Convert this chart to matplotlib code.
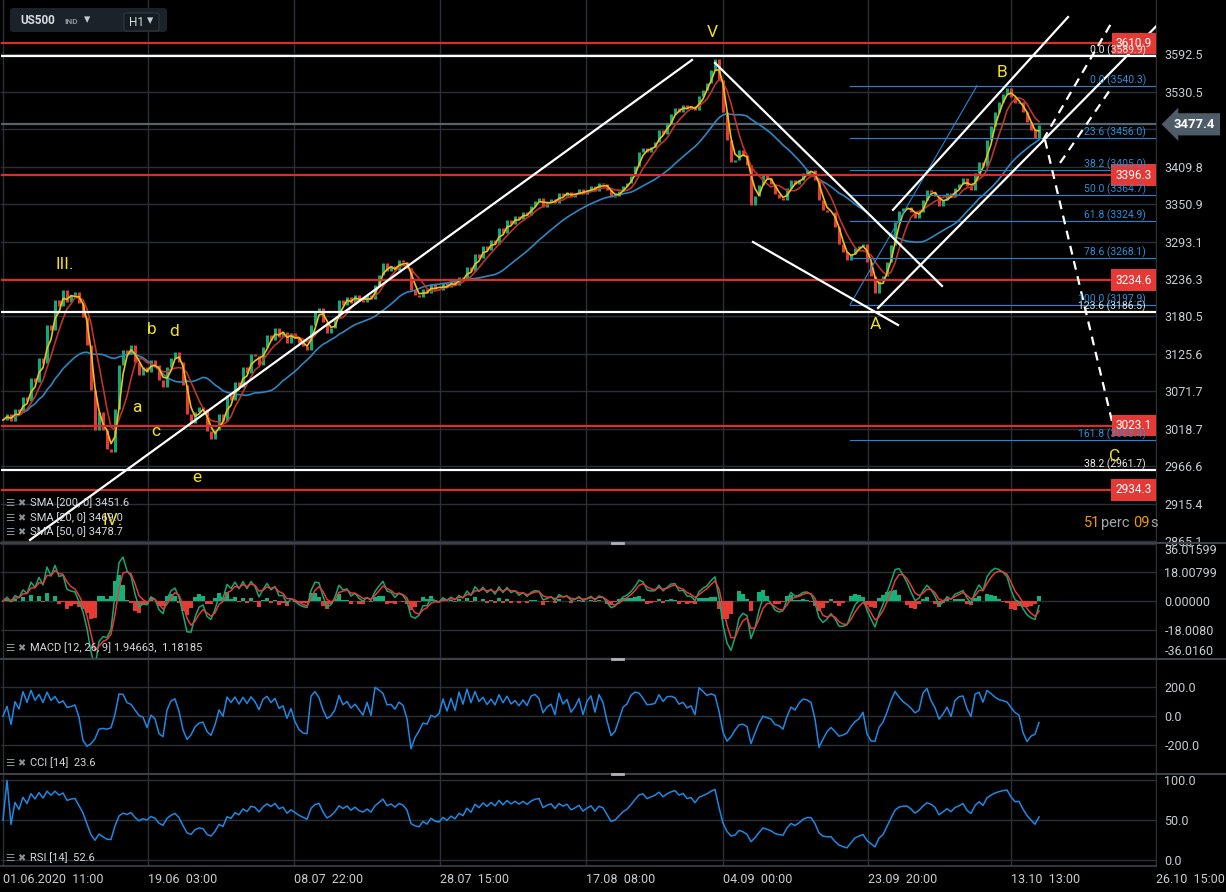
import numpy as np
import pandas as pd
import matplotlib
matplotlib.use("Agg")
import matplotlib.pyplot as plt
from matplotlib.lines import Line2D
from matplotlib.patches import FancyBboxPatch
from matplotlib.ticker import FixedLocator, FixedFormatter, NullLocator, FuncFormatter

plt.rcParams['font.family'] = ['Roboto', 'DejaVu Sans']

W, H = 1226, 892
BG = '#000000'
GRID = '#2a3036'
TXT = '#c9ced2'
UP = '#13a974'
DOWN = '#e63b35'

# US500 closes (one value every few H1 bars)
closes = [
    3031, 3040, 3030, 3046, 3042, 3063, 3058, 3091, 3085, 3120,
    3112, 3168, 3160, 3205, 3196, 3220, 3202, 3212, 3217, 3200,
    3180, 3139, 3074, 3017, 3043, 3017, 2990, 2987, 3046, 3110,
    3132, 3125, 3138, 3114, 3095, 3106, 3100, 3117, 3110, 3088,
    3078, 3106, 3120, 3129, 3114, 3081, 3039, 3027, 3043, 3049,
    3046, 3015, 3004, 3017, 3039, 3030, 3066, 3060, 3085, 3078,
    3106, 3098, 3126, 3123, 3110, 3135, 3153, 3146, 3164, 3150,
    3158, 3142, 3156, 3149, 3142, 3137, 3132, 3168, 3187, 3193,
    3173, 3156, 3164, 3178, 3205, 3198, 3210, 3200, 3213, 3205,
    3202, 3212, 3206, 3228, 3243, 3261, 3248, 3256, 3250, 3265,
    3262, 3253, 3220, 3213, 3210, 3222, 3215, 3229, 3222, 3220,
    3230, 3224, 3233, 3228, 3240, 3236, 3255, 3248, 3274, 3268,
    3286, 3280, 3296, 3290, 3314, 3306, 3326, 3320, 3332, 3327,
    3339, 3334, 3348, 3356, 3360, 3346, 3354, 3359, 3352, 3368,
    3364, 3370, 3362, 3367, 3374, 3366, 3373, 3379, 3372, 3384,
    3382, 3373, 3362, 3364, 3371, 3379, 3384, 3395, 3411, 3433,
    3439, 3433, 3441, 3449, 3468, 3462, 3479, 3494, 3504, 3498,
    3509, 3502, 3507, 3500, 3523, 3533, 3545, 3566, 3585, 3550,
    3497, 3452, 3417, 3420, 3436, 3428, 3412, 3350, 3363, 3381,
    3398, 3391, 3382, 3367, 3360, 3357, 3376, 3389, 3382, 3389,
    3399, 3404, 3404, 3389, 3357, 3342, 3339, 3339, 3316, 3290,
    3277, 3265, 3274, 3283, 3286, 3289, 3262, 3241, 3215, 3233,
    3241, 3262, 3288, 3323, 3340, 3345, 3346, 3339, 3329, 3339,
    3357, 3373, 3370, 3364, 3348, 3357, 3368, 3362, 3376, 3382,
    3391, 3379, 3373, 3399, 3417, 3410, 3452, 3474, 3497, 3513,
    3527, 3536, 3522, 3512, 3513, 3497, 3481, 3468, 3455, 3477,
]
last_price = 3477.4

# moving average windows in bars of the series above
sma_fast, sma_mid, sma_slow = 3, 6, 23

price_ticks = [3592.5, 3530.5, 3469.5, 3409.8, 3350.9, 3293.1, 3236.3,
               3180.5, 3125.6, 3071.7, 3018.7, 2966.6, 2915.4, 2865.1]
macd_ticks = [-36.0160, -18.0080, 0.0, 18.00799, 36.01599]
macd_tick_labels = ['-36.0160', '-18.0080', '0.00000', '18.00799', '36.01599']
cci_ticks = [-200, 0, 200]
rsi_ticks = [0, 50, 100]

res_levels = [3610.9, 3396.3, 3234.6, 3023.1, 2934.3]
white_fib = [(0.0, 3589.9), (123.6, 3186.5), (38.2, 2961.7)]
blue_fib = [(0.0, 3540.3), (23.6, 3456.0), (38.2, 3405.0), (50.0, 3364.7),
            (61.8, 3324.9), (78.6, 3268.1), (100.0, 3197.9), (161.8, 3003.4)]
blue_fib_start = 211.75

time_labels = ['01.06.2020  11:00', '19.06  03:00', '08.07  22:00', '28.07  15:00',
               '17.08  08:00', '04.09  00:00', '23.09  20:00', '13.10  13:00', '26.10  15:00']
time_pos = [0, 36.25, 72.75, 109.25, 145.75, 180, 216.25, 252, 288.25]
x_max = 288.25

wave_labels = [('III.', 15.5, 3257.6), ('IV.', 27.5, 2893.5), ('a', 33.5, 3048.4),
               ('b', 37.25, 3160.8), ('c', 38.25, 3014.7), ('d', 42.75, 3157.8),
               ('e', 48.5, 2951.0), ('V', 177.25, 3628.1), ('A', 218.0, 3168.1),
               ('B', 249.75, 3561.3), ('C', 278.0, 2979.5)]

trend_lines = [((6.75, 2866.9), (172.25, 3582.9)),
               ((178.0, 3577.9), (234.75, 3225.9)),
               ((187.5, 3292.4), (223.75, 3167.9)),
               ((218.75, 3193.0), (289.4, 3647.0)),
               ((222.5, 3341.9), (266.25, 3655.0))]
dashed_lines = [((260.0, 3452.2), (277.25, 3646.7)),
                ((264.25, 3415.5), (276.75, 3533.3)),
                ((260.5, 3452.2), (277.75, 3017.5))]
fib_diag = ((211.75, 3197.9), (243.5, 3540.3))

# ---- indicators
s = pd.Series(closes, dtype=float)
ma_fast = s.rolling(sma_fast, min_periods=1).mean()
ma_mid = s.rolling(sma_mid, min_periods=1).mean()
ma_slow = s.rolling(sma_slow, min_periods=1).mean()

macd = s.ewm(span=2, adjust=False).mean() - s.ewm(span=4, adjust=False).mean()
signal = macd.ewm(span=3, adjust=False).mean()
hist = macd - signal

n_cci = 8
tp_mean = s.rolling(n_cci, min_periods=1).mean()
mad = s.rolling(n_cci, min_periods=1).apply(lambda w: np.mean(np.abs(w - w.mean())), raw=True)
cci = ((s - tp_mean) / (0.015 * mad)).replace([np.inf, -np.inf], np.nan).fillna(0)

n_rsi = 9
d = s.diff().fillna(0)
gain = d.clip(lower=0).ewm(alpha=1 / n_rsi, adjust=False).mean()
loss = (-d.clip(upper=0)).ewm(alpha=1 / n_rsi, adjust=False).mean()
rsi = (100 * gain / (gain + loss)).fillna(50)

# ---- figure
fig = plt.figure(figsize=(W / 100, H / 100), dpi=100, facecolor=BG)


def rect(top, bot):
    return [1 / W, 1 - bot / H, 1155 / W, (bot - top) / H]


axp = fig.add_axes(rect(0, 543))
axm = fig.add_axes(rect(543, 659), sharex=axp)
axc = fig.add_axes(rect(659, 774), sharex=axp)
axr = fig.add_axes(rect(774, 866), sharex=axp)

for ax in (axp, axm, axc, axr):
    ax.set_facecolor(BG)
    for k in ('top', 'bottom', 'left'):
        ax.spines[k].set_visible(False)
    ax.spines['right'].set_color(GRID)
    ax.yaxis.tick_right()
    ax.tick_params(axis='y', length=0, pad=6, colors=TXT, labelsize=9)
    ax.tick_params(axis='x', length=0, labelbottom=False)
    ax.xaxis.set_major_locator(FixedLocator(time_pos))
    ax.grid(True, color=GRID, lw=1)
    ax.set_axisbelow(True)

axp.set_xlim(-0.5, x_max)

# price panel
axp.set_yscale('log')
axp.set_ylim(2862.8, 3684.1)
axp.yaxis.set_major_locator(FixedLocator(price_ticks))
axp.yaxis.set_minor_locator(NullLocator())
axp.yaxis.set_major_formatter(FuncFormatter(lambda v, p: '' if abs(v - 3469.5) < 0.1 else f'{v:.1f}'))
axp.yaxis.set_minor_formatter(FuncFormatter(lambda v, p: ''))

idx = np.arange(len(closes))
c = s.values
o = np.r_[c[0], c[:-1]]
up = c >= o
axp.vlines(idx[up], o[up], c[up], color=UP, lw=2.2, zorder=2)
axp.vlines(idx[~up], c[~up], o[~up], color=DOWN, lw=2.2, zorder=2)
axp.plot(idx, ma_slow, color='#2e86c1', lw=1.2, zorder=3)
axp.plot(idx, ma_mid, color='#c0332b', lw=1.2, zorder=3)
axp.plot(idx, ma_fast, color='#e8c21c', lw=1.2, zorder=3)

axp.axhline(last_price, color='#56646e', lw=1.6, zorder=1.5)
for v in res_levels:
    axp.axhline(v, color='#d7302c', lw=1.6, zorder=4)
    axp.text(x_max - 1.0, v, f'{v:.1f}', ha='right', va='center', color='white', fontsize=8.5,
             zorder=6, bbox=dict(fc='#e53935', ec='none', pad=3.0))
for lvl, v in white_fib:
    axp.axhline(v, color='white', lw=1.6, zorder=4)
    axp.text(285.75, v, f'{lvl:.1f} ({v:.1f})', ha='right', va='bottom', color='#e8e8e8',
             fontsize=7.5, zorder=7)
for lvl, v in blue_fib:
    axp.plot([blue_fib_start, x_max], [v, v], color='#1e88d8', lw=0.8, zorder=4)
    axp.text(285.75, v, f'{lvl:.1f} ({v:.1f})', ha='right', va='bottom', color='#2a8fd8',
             fontsize=7.5, zorder=7)
axp.plot(*zip(*fib_diag), color='#1e88d8', lw=0.8, zorder=4)

for p0, p1 in trend_lines:
    axp.plot([p0[0], p1[0]], [p0[1], p1[1]], color='white', lw=1.6, zorder=5)
for p0, p1 in dashed_lines:
    axp.plot([p0[0], p1[0]], [p0[1], p1[1]], color='white', lw=1.6, zorder=5,
             dashes=(4, 3))

for t, xi, yv in wave_labels:
    axp.text(xi, yv, t, color='#f2e21c', fontsize=12.5, ha='center', va='center', zorder=8)

axp.annotate(f'{last_price:.1f}', xy=(1, last_price), xycoords=('axes fraction', 'data'),
             xytext=(13, 0), textcoords='offset points', ha='left', va='center',
             color='white', fontsize=9.5, fontweight='bold', annotation_clip=False,
             bbox=dict(boxstyle='larrow,pad=0.35', fc='#4d5c67', ec='none'))

# MACD panel
axm.set_ylim(-36.5, 36.5)
axm.yaxis.set_major_locator(FixedLocator(macd_ticks))
axm.yaxis.set_major_formatter(FixedFormatter(macd_tick_labels))
hcol = np.where(hist.values >= 0, '#10b27a', '#e63b35')
axm.bar(idx, hist.values, width=0.85, color=hcol, zorder=2)
axm.plot(idx, macd, color='#13a974', lw=1.1, zorder=3)
axm.plot(idx, signal, color='#e63b35', lw=1.1, zorder=3)
lbls = axm.get_yticklabels()
lbls[0].set_va('bottom')
lbls[-1].set_va('top')

# CCI panel
axc.set_ylim(-400, 393)
axc.yaxis.set_major_locator(FixedLocator(cci_ticks))
axc.yaxis.set_major_formatter(FuncFormatter(lambda v, p: f'{v:.1f}'))
axc.plot(idx, cci, color='#1e88e5', lw=1.1)

# RSI panel
axr.set_ylim(-8.2, 108.2)
axr.yaxis.set_major_locator(FixedLocator(rsi_ticks))
axr.yaxis.set_major_formatter(FuncFormatter(lambda v, p: f'{v:.1f}'))
axr.plot(idx, rsi, color='#1e88e5', lw=1.1)
axr.tick_params(axis='x', labelbottom=True, colors=TXT, labelsize=9, pad=5)
axr.set_xticks(time_pos)
axr.set_xticklabels(time_labels, ha='left')


def fx(x):
    return x / W


def fy(y):
    return 1 - y / H


# panel separators
for yy in (543, 659, 774):
    fig.add_artist(Line2D([0, 1], [fy(yy), fy(yy)], color='#3a4147', lw=1.5))
    fig.add_artist(Line2D([fx(612), fx(623)], [fy(yy), fy(yy)], color='#b0b4b8', lw=2))
fig.add_artist(Line2D([0, 1156 / W], [fy(866), fy(866)], color='#3a4147', lw=1.2))

# indicator captions
captions = [(503, 'SMA [200, 0] 3451.6'), (518, 'SMA [20, 0] 3469.0'),
            (532, 'SMA [50, 0] 3478.7'), (648, 'MACD [12, 26, 9] 1.94663,  1.18185'),
            (763, 'CCI [14]  23.6'), (858, 'RSI [14]  52.6')]
for yy, t in captions:
    fig.text(fx(5), fy(yy), '\u2630', color='#8c9196', fontsize=7.5, va='center',
             family=['DejaVu Sans'])
    fig.text(fx(17), fy(yy), '\u2716', color='#8c9196', fontsize=7, va='center',
             family=['DejaVu Sans'])
    fig.text(fx(30), fy(yy), t, color='#d6d9dc', fontsize=8, va='center')

# countdown
for xx, t, col in [(1084, '51', '#f0960e'), (1101, 'perc', '#a3a7ab'),
                   (1133, '09', '#f0960e'), (1150, 's', '#a3a7ab')]:
    fig.text(fx(xx), fy(523), t, color=col, fontsize=10.5, va='center')

# symbol toolbar
fig.add_artist(FancyBboxPatch((fx(10), fy(32)), fx(157), 24 / H, transform=fig.transFigure,
                              boxstyle='round,pad=0,rounding_size=0.003', fc='#1a2329', ec='none'))
fig.add_artist(FancyBboxPatch((fx(124), fy(31)), fx(35), 18 / H, transform=fig.transFigure,
                              boxstyle='round,pad=0,rounding_size=0.002', fc='#141c21',
                              ec='#2d373e', lw=0.8))
fig.text(fx(20), fy(21), 'US500', color='#d8dde0', fontsize=8.5, fontweight='bold', va='center')
fig.text(fx(64), fy(21), 'IND', color='#8d969c', fontsize=6, fontweight='bold', va='center')
fig.text(fx(84), fy(20), '\u25BE', color='#c8ccd0', fontsize=9, va='center', family=['DejaVu Sans'])
fig.text(fx(129), fy(22), 'H1', color='#d8dde0', fontsize=8.5, va='center')
fig.text(fx(147), fy(21), '\u25BE', color='#c8ccd0', fontsize=9, va='center', family=['DejaVu Sans'])

fig.savefig('out.png', dpi=100, facecolor=BG)
